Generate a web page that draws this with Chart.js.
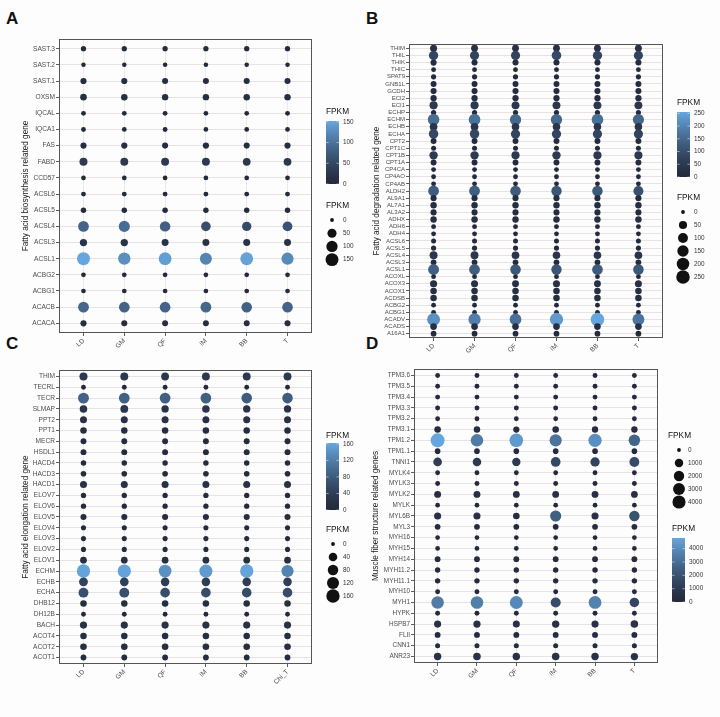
<!DOCTYPE html>
<html>
<head>
<meta charset="utf-8">
<script src="https://cdn.jsdelivr.net/npm/chart.js@4.4.1/dist/chart.umd.min.js"></script>
<style>
  body { margin: 0; background: #fdfdfd; width: 720px; height: 717px; position: relative; overflow: hidden; }
  canvas { position: absolute; }
  .tag { position: absolute; font: bold 17px "Liberation Sans", Arial, sans-serif; line-height: 1; color: #111; }
</style>
</head>
<body>
<div class="tag" style="left:6px;top:10px">A</div>
<div class="tag" style="left:366px;top:10px">B</div>
<div class="tag" style="left:6px;top:335px">C</div>
<div class="tag" style="left:366px;top:335px">D</div>
<canvas id="pa" width="360" height="360" style="left:0;top:0"></canvas>
<canvas id="pb" width="360" height="360" style="left:360px;top:0"></canvas>
<canvas id="pc" width="360" height="357" style="left:0;top:360px"></canvas>
<canvas id="pd" width="360" height="357" style="left:360px;top:360px"></canvas>
<script>
// tissues (x axis)
var tissues = ['LD', 'GM', 'QF', 'IM', 'BB', 'T'];
var tissuesC = ['LD', 'GM', 'QF', 'IM', 'BB', 'Chi_T'];

// A - fatty acid biosynthesis (top to bottom)
var genesA = ['SAST.3','SAST.2','SAST.1','OXSM','IQCAL','IQCA1','FAS','FABD','CCD57','ACSL6','ACSL5','ACSL4','ACSL3','ACSL1','ACBG2','ACBG1','ACACB','ACACA'];
var fpkmA = [
  [4, 4, 4, 4, 4, 4],
  [1, 1, 1, 1, 1, 1],
  [10, 10, 9, 9, 9, 9],
  [14, 13, 12, 12, 13, 12],
  [2, 2, 2, 1.5, 1.5, 2],
  [2, 1.5, 2, 1.5, 1.5, 1.5],
  [10, 10, 9, 11, 9, 10],
  [32, 30, 30, 30, 28, 28],
  [1.5, 1.5, 1.5, 1.5, 1.5, 1.5],
  [2, 2, 2, 2, 2, 2],
  [5, 5, 5, 5, 5, 5],
  [85, 95, 80, 60, 55, 65],
  [22, 22, 18, 18, 18, 18],
  [152, 130, 145, 120, 148, 125],
  [1.5, 1.5, 1.5, 1.5, 1.5, 1.5],
  [1.5, 1.5, 1.5, 1.5, 1.5, 1.5],
  [88, 85, 85, 88, 82, 85],
  [10, 9, 8, 8, 8, 9]
];
var colorTicksA = [0, 50, 100, 150];
var sizeTicksA = [0, 50, 100, 150];

// B - fatty acid degradation
var genesB = ['THIM','THIL','THIK','THIC','SPAT9','GNB1L','GCDH','ECI2','ECI1','ECHP','ECHM','ECHB','ECHA','CPT2','CPT1C','CPT1B','CPT1A','CP4CA','CP4AO','CP4AB','ALDH2','AL9A1','AL7A1','AL3A2','ADHX','ADH6','ADH4','ACSL6','ACSL5','ACSL4','ACSL3','ACSL1','ACOXL','ACOX3','ACOX1','ACDSB','ACBG2','ACBG1','ACADV','ACADS','A16A1'];
var fpkmB = [
  [28, 25, 25, 25, 25, 25],
  [80, 75, 75, 90, 80, 75],
  [15, 14, 14, 14, 14, 14],
  [3, 3, 3, 3, 3, 3],
  [5, 5, 5, 5, 5, 5],
  [12, 12, 12, 12, 12, 12],
  [14, 14, 14, 14, 14, 14],
  [16, 16, 16, 16, 16, 16],
  [50, 48, 45, 45, 45, 45],
  [5, 5, 5, 5, 5, 5],
  [160, 165, 150, 150, 165, 145],
  [40, 40, 38, 38, 38, 38],
  [85, 85, 80, 80, 80, 75],
  [12, 12, 12, 12, 12, 12],
  [4, 4, 4, 4, 4, 4],
  [55, 55, 50, 55, 50, 48],
  [12, 12, 12, 12, 12, 12],
  [3, 3, 3, 3, 3, 3],
  [3, 3, 3, 3, 3, 3],
  [3, 3, 3, 3, 3, 3],
  [130, 130, 125, 115, 120, 105],
  [14, 14, 14, 14, 14, 14],
  [18, 18, 18, 18, 18, 18],
  [14, 14, 14, 14, 14, 14],
  [18, 18, 18, 18, 18, 18],
  [3, 3, 3, 3, 3, 3],
  [3, 3, 3, 3, 3, 3],
  [4, 4, 4, 4, 4, 4],
  [5, 5, 5, 5, 5, 5],
  [45, 45, 40, 38, 38, 40],
  [10, 10, 10, 10, 10, 10],
  [135, 130, 120, 115, 125, 120],
  [3, 3, 3, 3, 3, 3],
  [30, 28, 25, 28, 25, 28],
  [20, 20, 20, 20, 20, 20],
  [20, 20, 20, 20, 20, 20],
  [3, 3, 3, 3, 3, 3],
  [3, 3, 3, 3, 3, 3],
  [220, 190, 165, 235, 255, 175],
  [22, 22, 22, 22, 22, 22],
  [10, 10, 10, 10, 10, 10]
];
var colorTicksB = [0, 50, 100, 150, 200, 250];
var sizeTicksB = [0, 50, 100, 150, 200, 250];

// C - fatty acid elongation
var genesC = ['THIM','TECRL','TECR','SLMAP','PPT2','PPT1','MECR','HSDL1','HACD4','HACD3','HACD1','ELOV7','ELOV6','ELOV5','ELOV4','ELOV3','ELOV2','ELOV1','ECHM','ECHB','ECHA','DHB12','DH12B','BACH','ACOT4','ACOT2','ACOT1'];
var fpkmC = [
  [32, 30, 28, 30, 30, 30],
  [2, 2, 2, 2, 2, 2],
  [90, 85, 85, 85, 80, 80],
  [25, 28, 22, 25, 22, 22],
  [18, 18, 18, 18, 18, 18],
  [13, 13, 13, 13, 13, 13],
  [8, 8, 8, 8, 8, 8],
  [8, 8, 8, 8, 8, 8],
  [5, 5, 5, 5, 5, 5],
  [6, 6, 6, 6, 6, 6],
  [18, 18, 18, 18, 18, 18],
  [4, 4, 4, 4, 4, 4],
  [4, 4, 4, 4, 4, 4],
  [9, 9, 9, 9, 9, 9],
  [3, 3, 3, 3, 3, 3],
  [3, 3, 3, 3, 3, 3],
  [3, 3, 3, 3, 3, 3],
  [15, 15, 15, 15, 15, 15],
  [160, 158, 140, 150, 160, 125],
  [45, 42, 40, 40, 40, 40],
  [65, 65, 60, 60, 60, 60],
  [13, 13, 13, 13, 13, 13],
  [2, 2, 2, 2, 2, 2],
  [20, 20, 20, 20, 20, 20],
  [13, 13, 13, 13, 13, 13],
  [14, 14, 14, 14, 14, 14],
  [7, 7, 7, 7, 7, 7]
];
var colorTicksC = [0, 40, 80, 120, 160];
var sizeTicksC = [0, 40, 80, 120, 160];

// D - muscle fiber structure
var genesD = ['TPM3.6','TPM3.5','TPM3.4','TPM3.3','TPM3.2','TPM3.1','TPM1.2','TPM1.1','TNNI1','MYLK4','MYLK3','MYLK2','MYLK','MYL6B','MYL3','MYH16','MYH15','MYH14','MYH11.2','MYH11.1','MYH10','MYH1','HYPK','HSPB7','FLII','CNN1','ANR23'];
var fpkmD = [
  [50, 50, 50, 50, 50, 50],
  [50, 50, 50, 50, 50, 50],
  [60, 60, 60, 60, 60, 60],
  [60, 60, 60, 60, 60, 60],
  [50, 50, 50, 50, 50, 50],
  [350, 320, 280, 350, 300, 300],
  [4800, 3500, 4400, 3200, 4100, 2700],
  [150, 150, 150, 150, 150, 150],
  [1100, 1050, 950, 1600, 1400, 1700],
  [50, 50, 50, 50, 50, 50],
  [60, 60, 60, 60, 60, 60],
  [450, 450, 420, 420, 420, 400],
  [40, 40, 40, 40, 40, 40],
  [500, 500, 380, 2500, 500, 2000],
  [180, 180, 180, 180, 180, 180],
  [40, 40, 40, 40, 40, 40],
  [40, 40, 40, 40, 40, 40],
  [180, 180, 180, 180, 180, 180],
  [120, 120, 120, 120, 120, 120],
  [120, 120, 120, 120, 120, 120],
  [60, 60, 60, 60, 60, 60],
  [3500, 3600, 3900, 1800, 3700, 1500],
  [60, 60, 60, 60, 60, 60],
  [500, 550, 480, 600, 520, 650],
  [200, 200, 200, 200, 200, 200],
  [70, 70, 70, 70, 70, 70],
  [600, 650, 600, 650, 600, 550]
];
var colorTicksD = [0, 1000, 2000, 3000, 4000];
var sizeTicksD = [0, 1000, 2000, 3000, 4000];

var FONT = '"Liberation Sans", Arial, sans-serif';
var lowRGB = [36, 42, 60], highRGB = [102, 166, 222];

function colorFor(v, vmax) {
  var t = Math.pow(Math.min(v / vmax, 1), 1.3);
  return 'rgb(' + lowRGB.map(function (c, k) { return Math.round(c + (highRGB[k] - c) * t); }).join(',') + ')';
}
function sizeFor(v, p) {
  return p.rmin + (p.rmax - p.rmin) * Math.sqrt(Math.min(v / p.vmax, 1));
}

// legend + panel frame
function makeLegend(p) {
  return {
    id: 'fpkmLegend',
    afterDraw: function (chart) {
      var ctx = chart.ctx, a = chart.chartArea;
      ctx.save();
      ctx.strokeStyle = '#555';
      ctx.lineWidth = 1;
      ctx.strokeRect(Math.round(a.left) + 0.5, Math.round(a.top) + 0.5, Math.round(a.right - a.left) - 1, Math.round(a.bottom - a.top) - 1);

      var cb = p.colorbar, sz = p.sizes;
      ctx.textBaseline = 'middle';
      ctx.textAlign = 'left';
      // colour bar
      ctx.fillStyle = '#111';
      ctx.font = '8.3px ' + FONT;
      ctx.fillText('FPKM', cb.x, cb.titleY);
      var g = ctx.createLinearGradient(0, cb.top + cb.h, 0, cb.top);
      for (var i = 0; i <= 20; i++) g.addColorStop(i / 20, colorFor(p.vmax * i / 20, p.vmax));
      ctx.fillStyle = g;
      ctx.fillRect(cb.x, cb.top, 13, cb.h);
      ctx.font = '6.4px ' + FONT;
      ctx.strokeStyle = 'rgba(255,255,255,0.8)';
      ctx.lineWidth = 0.6;
      p.colorTicks.forEach(function (t) {
        var y = cb.top + cb.h - cb.h * t / p.vmax;
        ctx.beginPath();
        ctx.moveTo(cb.x, y); ctx.lineTo(cb.x + 2.6, y);
        ctx.moveTo(cb.x + 10.4, y); ctx.lineTo(cb.x + 13, y);
        ctx.stroke();
        ctx.fillStyle = '#333';
        ctx.fillText(String(t), cb.labelX, y);
      });
      // size legend
      ctx.fillStyle = '#111';
      ctx.font = '8.3px ' + FONT;
      ctx.fillText('FPKM', sz.x, sz.titleY);
      ctx.font = '6.4px ' + FONT;
      p.sizeTicks.forEach(function (t, i) {
        var y = sz.y0 + i * sz.step;
        ctx.fillStyle = '#111';
        ctx.beginPath();
        ctx.arc(sz.cx, y, sizeFor(t, p), 0, Math.PI * 2);
        ctx.fill();
        ctx.fillStyle = '#333';
        ctx.fillText(String(t), sz.labelX, y);
      });
      ctx.restore();
    }
  };
}

function panel(id, genes, cols, vals, p) {
  var pts = [];
  genes.forEach(function (g, i) {
    cols.forEach(function (c, j) {
      pts.push({ x: j, y: i, r: sizeFor(vals[i][j], p), v: vals[i][j] });
    });
  });
  return new Chart(document.getElementById(id), {
    type: 'bubble',
    data: {
      datasets: [{
        data: pts,
        borderWidth: 0,
        backgroundColor: function (c) { return colorFor(c.raw.v, p.vmax); }
      }]
    },
    options: {
      responsive: false,
      animation: false,
      events: [],
      layout: { padding: { left: 0, top: p.top, right: p.right, bottom: 0 } },
      plugins: { legend: { display: false }, tooltip: { enabled: false } },
      scales: {
        x: {
          type: 'linear', position: 'bottom', min: -0.6, max: cols.length - 0.4,
          afterBuildTicks: function (s) { s.ticks = cols.map(function (c, j) { return { value: j }; }); },
          afterFit: function (s) { s.height = p.xh; },
          ticks: {
            autoSkip: false, minRotation: 45, maxRotation: 45, padding: 1,
            color: '#4d4d4d', font: { size: 6.6, family: FONT },
            callback: function (v) { return cols[v]; }
          },
          grid: { color: '#e6e3e3', lineWidth: 0.8, tickColor: '#333', tickLength: 3, tickWidth: 0.8 },
          border: { display: false }
        },
        y: {
          type: 'linear', reverse: true, min: -0.6, max: genes.length - 0.4,
          afterBuildTicks: function (s) { s.ticks = genes.map(function (g, i) { return { value: i }; }); },
          afterFit: function (s) { s.width = p.yw; },
          ticks: {
            autoSkip: false, padding: 1,
            color: '#4d4d4d', font: { size: p.yFont, family: FONT },
            callback: function (v) { return genes[v]; }
          },
          grid: { color: '#e8e2e2', lineWidth: 1, tickColor: '#333', tickLength: 3, tickWidth: 0.8 },
          border: { display: false },
          title: {
            display: true, text: p.title, color: '#1a1a1a',
            font: { size: 8.2, family: FONT }, padding: { top: p.tpad, bottom: 0 }
          }
        }
      }
    },
    plugins: [makeLegend(p)]
  });
}

panel('pa', genesA, tissues, fpkmA, {
  vmax: 152, rmin: 1.9, rmax: 6.5, top: 39, right: 48, yw: 59, xh: 27, tpad: 21, yFont: 6.6,
  title: 'Fatty acid biosynthesis related gene',
  colorTicks: colorTicksA, sizeTicks: sizeTicksA,
  colorbar: { x: 326, titleY: 112, top: 121, h: 63, labelX: 343 },
  sizes: { x: 326, titleY: 206, y0: 220, step: 13.2, cx: 332, labelX: 343 }
});

panel('pb', genesB, tissues, fpkmB, {
  vmax: 255, rmin: 1.9, rmax: 6.8, top: 44, right: 57, yw: 49, xh: 22, tpad: 12, yFont: 6.0,
  title: 'Fatty acid degradation related gene',
  colorTicks: colorTicksB, sizeTicks: sizeTicksB,
  colorbar: { x: 317, titleY: 103, top: 112, h: 65, labelX: 334 },
  sizes: { x: 317, titleY: 198, y0: 212, step: 13, cx: 323, labelX: 334 }
});

panel('pc', genesC, tissuesC, fpkmC, {
  vmax: 162, rmin: 1.9, rmax: 6.7, top: 10, right: 48, yw: 59, xh: 53, tpad: 21, yFont: 6.6,
  title: 'Fatty acid elongation related gene',
  colorTicks: colorTicksC, sizeTicks: sizeTicksC,
  colorbar: { x: 326, titleY: 76, top: 83, h: 67, labelX: 343 },
  sizes: { x: 326, titleY: 170, y0: 184, step: 13, cx: 333, labelX: 343 }
});

panel('pd', genesD, tissues, fpkmD, {
  vmax: 4800, rmin: 1.9, rmax: 7.0, top: 9, right: 62, yw: 54, xh: 54, tpad: 11, yFont: 6.4,
  title: 'Muscle fiber structure related genes',
  colorTicks: colorTicksD, sizeTicks: sizeTicksD,
  colorbar: { x: 312, titleY: 169, top: 178, h: 64, labelX: 329 },
  sizes: { x: 308, titleY: 76, y0: 90, step: 13, cx: 319, labelX: 328 }
});
</script>
</body>
</html>
